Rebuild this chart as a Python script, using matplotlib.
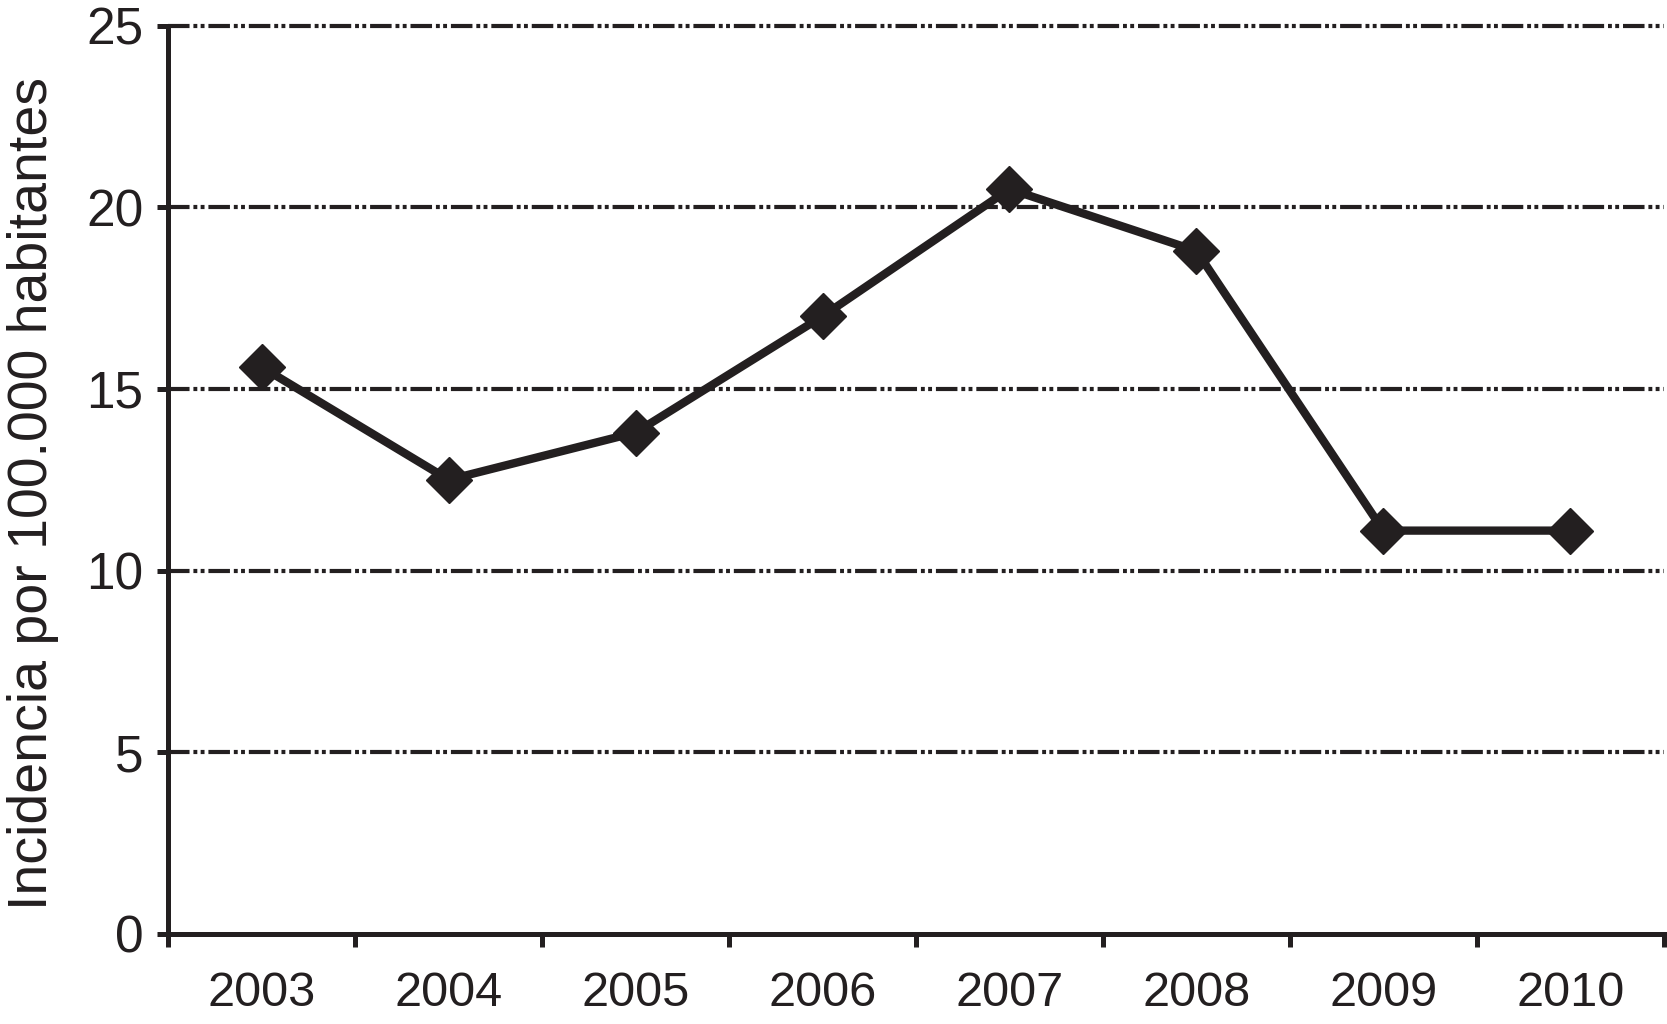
import matplotlib
matplotlib.use("Agg")
import matplotlib.pyplot as plt

plt.rcParams['font.family'] = ['Liberation Sans', 'DejaVu Sans']
plt.rcParams['lines.scale_dashes'] = False

# data
years = ['2003', '2004', '2005', '2006', '2007', '2008', '2009', '2010']
incidencia = [15.6, 12.5, 13.8, 17.0, 20.5, 18.8, 11.1, 11.1]
yticks = [0, 5, 10, 15, 20, 25]

ink = '#231f20'

fig = plt.figure(figsize=(16.67, 10.24), dpi=100)
ax = fig.add_axes([0.101, 0.088, 0.897, 0.887])

xs = list(range(1, len(years) + 1))

# dash-dot-dot gridlines
for v in yticks[1:]:
    ax.axhline(v, color=ink, lw=3.0, dashes=(15.5, 2.8, 2.8, 2.4, 2.8, 2.8),
               zorder=1, clip_on=False)

ax.plot(xs, incidencia, color=ink, lw=6, marker='D', ms=23,
        mfc=ink, mec=ink, zorder=3, clip_on=False)

ax.set_xlim(0.5, len(years) + 0.5)
ax.set_ylim(0, 25)

for s in ['top', 'right']:
    ax.spines[s].set_visible(False)
for s in ['left', 'bottom']:
    ax.spines[s].set_linewidth(3.6)
    ax.spines[s].set_color(ink)

ax.set_yticks(yticks)
ax.tick_params(axis='y', length=8, width=3.6, color=ink, labelsize=37,
               labelcolor=ink, pad=10)

# tick marks at category boundaries, labels at centres
ax.set_xticks([x + 0.5 for x in range(len(years) + 1)])
ax.set_xticklabels([])
ax.set_xticks(xs, minor=True)
ax.set_xticklabels(years, minor=True)
ax.tick_params(axis='x', which='major', length=9, width=3.6, color=ink)
ax.tick_params(axis='x', which='minor', length=0, labelsize=35,
               labelcolor=ink, pad=27)

ax.set_ylabel('Incidencia por 100.000 habitantes', fontsize=40, color=ink)
ax.yaxis.set_label_coords(-0.073, 0.485)

fig.savefig('out.png', dpi=100)
